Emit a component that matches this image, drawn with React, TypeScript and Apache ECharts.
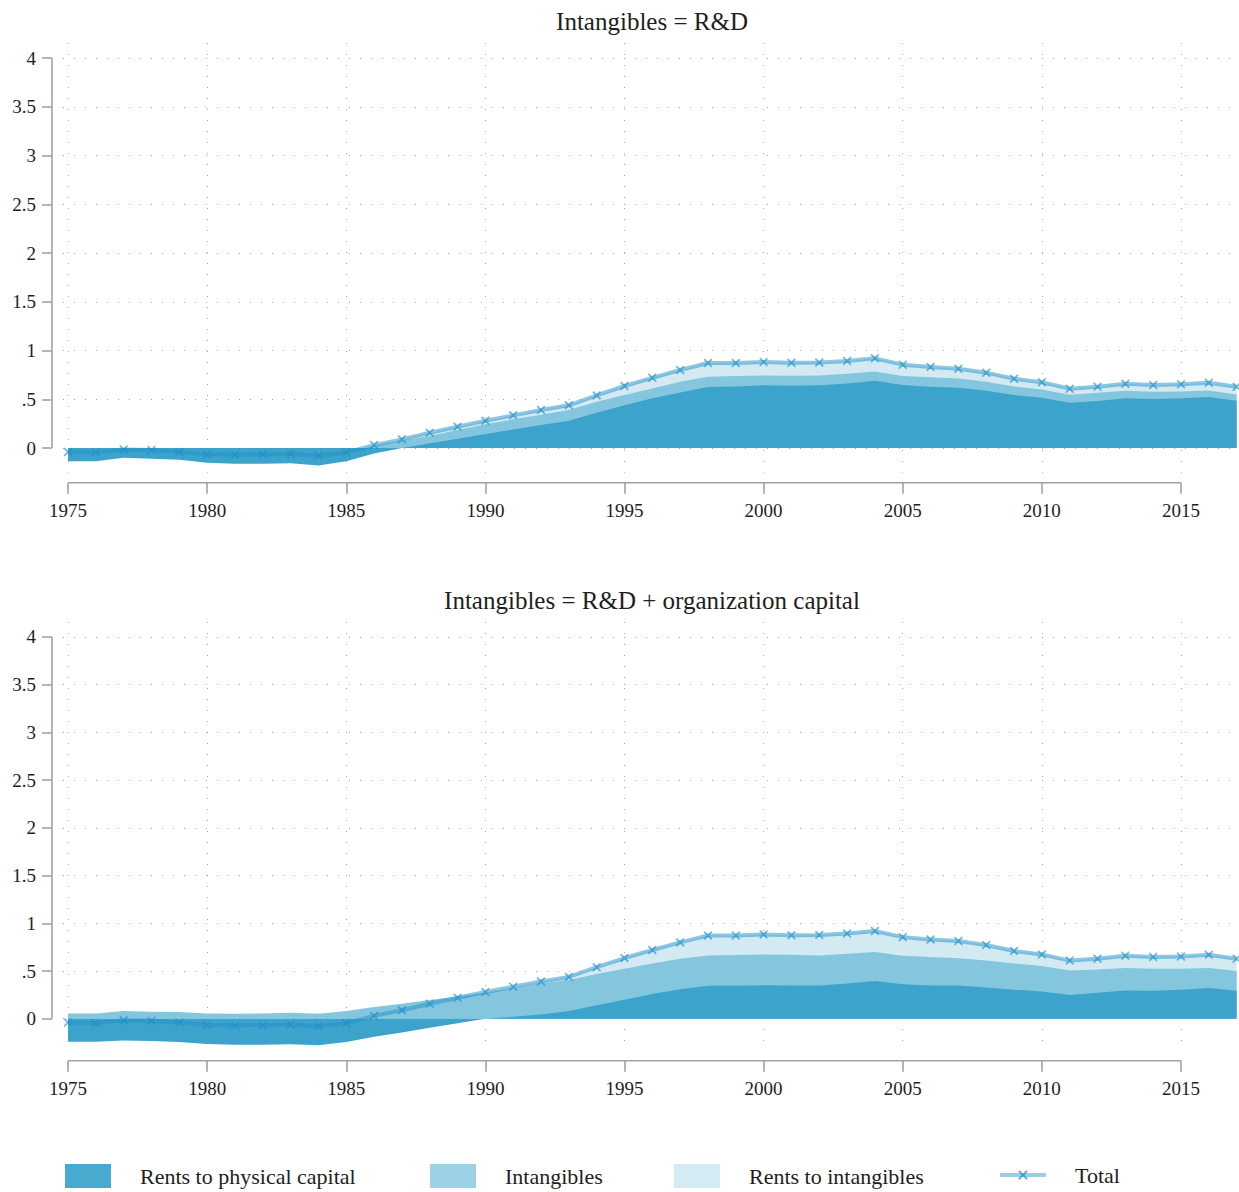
import { useEffect, useRef } from "react";
import * as echarts from "echarts";

// ---------- data ----------
const years = [
  1975, 1976, 1977, 1978, 1979, 1980, 1981, 1982, 1983, 1984,
  1985, 1986, 1987, 1988, 1989, 1990, 1991, 1992, 1993, 1994,
  1995, 1996, 1997, 1998, 1999, 2000, 2001, 2002, 2003, 2004,
  2005, 2006, 2007, 2008, 2009, 2010, 2011, 2012, 2013, 2014,
  2015, 2016, 2017,
];

// Total rents (same in both panels)
const totalRents = [
  -0.04, -0.045, -0.015, -0.02, -0.04, -0.065, -0.07, -0.065, -0.06, -0.08,
  -0.045, 0.03, 0.089, 0.157, 0.219, 0.28, 0.335, 0.39, 0.438, 0.54,
  0.636, 0.72, 0.8, 0.872, 0.872, 0.882, 0.875, 0.877, 0.892, 0.92,
  0.855, 0.83, 0.814, 0.773, 0.71, 0.674, 0.609, 0.629, 0.66, 0.646,
  0.653, 0.67, 0.629,
];

// Panel 1: Intangibles = R&D
const physicalRD = [
  -0.135, -0.135, -0.1, -0.11, -0.12, -0.15, -0.16, -0.16, -0.155, -0.18,
  -0.135, -0.055, 0.0, 0.048, 0.096, 0.144, 0.19, 0.236, 0.28, 0.362,
  0.44, 0.51, 0.57, 0.625, 0.632, 0.643, 0.64, 0.643, 0.663, 0.69,
  0.646, 0.629, 0.619, 0.588, 0.544, 0.516, 0.465, 0.482, 0.51, 0.503,
  0.51, 0.523, 0.485,
];
const intangiblesRD = [
  0.07, 0.07, 0.07, 0.07, 0.07, 0.075, 0.075, 0.075, 0.075, 0.08,
  0.08, 0.075, 0.075, 0.075, 0.089, 0.099, 0.104, 0.106, 0.11, 0.113,
  0.104, 0.1, 0.11, 0.105, 0.106, 0.102, 0.102, 0.102, 0.099, 0.096,
  0.092, 0.096, 0.095, 0.092, 0.088, 0.084, 0.082, 0.085, 0.078, 0.075,
  0.07, 0.067, 0.065,
];

// Panel 2: Intangibles = R&D + organization capital
const physicalOC = [
  -0.24, -0.24, -0.227, -0.234, -0.245, -0.265, -0.272, -0.272, -0.268, -0.279,
  -0.244, -0.19, -0.145, -0.095, -0.048, 0.0, 0.02, 0.045, 0.08, 0.14,
  0.2, 0.26, 0.31, 0.345, 0.345, 0.35, 0.347, 0.349, 0.37, 0.395,
  0.36, 0.349, 0.349, 0.328, 0.304, 0.286, 0.248, 0.272, 0.297, 0.293,
  0.304, 0.321, 0.293,
];
const intangiblesOC = [
  0.296, 0.296, 0.307, 0.307, 0.315, 0.321, 0.324, 0.328, 0.331, 0.331,
  0.324, 0.312, 0.302, 0.29, 0.282, 0.272, 0.298, 0.325, 0.325, 0.328,
  0.324, 0.32, 0.318, 0.318, 0.322, 0.324, 0.323, 0.314, 0.31, 0.303,
  0.3, 0.297, 0.286, 0.283, 0.276, 0.266, 0.258, 0.245, 0.234, 0.231,
  0.22, 0.21, 0.207,
];

const panelTitles = ["Intangibles = R&D", "Intangibles = R&D + organization capital"];
const xTicks = [1975, 1980, 1985, 1990, 1995, 2000, 2005, 2010, 2015];
const yTicks = [0, 0.5, 1, 1.5, 2, 2.5, 3, 3.5, 4];
const yTickLabels = ["0", ".5", "1", "1.5", "2", "2.5", "3", "3.5", "4"];

const NAME_PHYS = "Rents to physical capital";
const NAME_INT = "Intangibles";
const NAME_RENT = "Rents to intangibles";
const NAME_TOTAL = "Total";

// ---------- styles ----------
const FONT = '"Liberation Serif", "DejaVu Serif", serif';
const TXT = "#1e1e1e";
const AXIS = "#a2a2a2";
const DARK = "#3ca4cc";
const MED = "#85c6df";
const LIGHT = "#d4eaf3";
const LINE = "rgba(30,144,200,0.5)";
const MARK = "rgba(30,144,200,0.62)";
const XSYM =
  "path://M0,1.4L1.4,0L5,3.6L8.6,0L10,1.4L6.4,5L10,8.6L8.6,10L5,6.4L1.4,10L0,8.6L3.6,5Z";

const X_MIN = 1974.82;
const X_MAX = 2017.085;
const grids = [
  { top: 43, height: 429.7, yMin: -0.253, yMax: 4.154 },
  { top: 622, height: 428.7, yMin: -0.335, yMax: 4.157 },
];
const GRID_LEFT = 63;
const GRID_WIDTH = 1176;

const r3 = (v: number) => Math.round(v * 1000) / 1000;

function buildOption() {
  const gridLine = { show: true, lineStyle: { color: "#a8a8a8", width: 1, type: [1, 10] } };
  const physArr = [physicalRD, physicalOC];
  const intArr = [intangiblesRD, intangiblesOC];
  const series: any[] = [];
  for (let i = 0; i < 2; i++) {
    const phys = physArr[i];
    const intg = intArr[i];
    const totalPairs = years.map((y, k) => [y, totalRents[k]]);
    const physIntPairs = years.map((y, k) => [y, r3(phys[k] + intg[k])]);
    const physPairs = years.map((y, k) => [y, phys[k]]);
    const common = { type: "line", xAxisIndex: i, yAxisIndex: i, symbol: "none", silent: true };
    series.push({
      ...common,
      name: NAME_RENT,
      data: totalPairs,
      lineStyle: { width: 0, opacity: 0 },
      itemStyle: { color: LIGHT },
      areaStyle: { color: LIGHT, opacity: 1 },
      z: 2,
    });
    series.push({
      ...common,
      name: NAME_INT,
      data: physIntPairs,
      lineStyle: { width: 0, opacity: 0 },
      itemStyle: { color: MED },
      areaStyle: { color: MED, opacity: 1 },
      z: 3,
    });
    series.push({
      ...common,
      name: NAME_PHYS,
      data: physPairs,
      lineStyle: { width: 0, opacity: 0 },
      itemStyle: { color: DARK },
      areaStyle: { color: DARK, opacity: 1 },
      z: 4,
    });
    series.push({
      type: "line",
      xAxisIndex: i,
      yAxisIndex: i,
      name: NAME_TOTAL,
      data: totalPairs,
      symbol: XSYM,
      symbolSize: 9,
      showAllSymbol: true,
      lineStyle: { color: LINE, width: 4 },
      itemStyle: { color: MARK },
      silent: true,
      z: 5,
    });
  }

  const legendText = { fontFamily: FONT, fontSize: 22, color: TXT, padding: [0, 0, 0, 24] };
  const legendBase = { orient: "horizontal", padding: 0, selectedMode: false, textStyle: legendText };

  return {
    animation: false,
    backgroundColor: "#ffffff",
    textStyle: { fontFamily: FONT },
    title: panelTitles.map((t, i) => ({
      text: t,
      left: 652,
      top: i === 0 ? 9 : 588,
      textAlign: "center",
      padding: 0,
      textStyle: { fontFamily: FONT, fontSize: 25, fontWeight: "normal", color: TXT },
    })),
    legend: [
      { ...legendBase, left: 65, top: 1164, itemWidth: 46, itemHeight: 24, data: [{ name: NAME_PHYS, icon: "rect", itemStyle: { color: "#48aacf" } }] },
      { ...legendBase, left: 430, top: 1164, itemWidth: 46, itemHeight: 24, data: [{ name: NAME_INT, icon: "rect", itemStyle: { color: "#9dd1e6" } }] },
      { ...legendBase, left: 674, top: 1164, itemWidth: 46, itemHeight: 24, data: [{ name: NAME_RENT, icon: "rect", itemStyle: { color: "#d5ebf4" } }] },
      {
        ...legendBase,
        left: 998,
        top: 1164,
        itemWidth: 46,
        itemHeight: 12,
        lineStyle: { width: 4, color: "rgba(30,144,200,0.45)" },
        data: [{ name: NAME_TOTAL, itemStyle: { color: "rgba(30,144,200,0.75)" }, lineStyle: { width: 4, color: "rgba(30,144,200,0.45)" } }],
      },
    ],
    grid: grids.map((g) => ({ left: GRID_LEFT, width: GRID_WIDTH, top: g.top, height: g.height })),
    xAxis: grids.map((g, i) => ({
      type: "value",
      gridIndex: i,
      min: X_MIN,
      max: X_MAX,
      offset: 10,
      axisLine: { show: false, onZero: false },
      axisTick: { show: true, length: 11, customValues: xTicks, lineStyle: { color: AXIS, width: 1.6 } },
      axisLabel: { customValues: xTicks, margin: 18, fontFamily: FONT, fontSize: 19, color: TXT, formatter: (v: number) => String(v) },
      splitLine: gridLine,
    })),
    yAxis: grids.map((g, i) => ({
      type: "value",
      gridIndex: i,
      min: g.yMin,
      max: g.yMax,
      offset: 11,
      axisLine: { show: false, onZero: false },
      axisTick: { show: true, length: 10, customValues: yTicks, lineStyle: { color: AXIS, width: 1.6 } },
      axisLabel: {
        customValues: yTicks,
        margin: 16,
        fontFamily: FONT,
        fontSize: 19,
        color: TXT,
        formatter: (v: number) => {
          const k = yTicks.findIndex((t) => Math.abs(t - v) < 1e-6);
          return k >= 0 ? yTickLabels[k] : "";
        },
      },
      splitLine: gridLine,
    })),
    series,
  };
}

export default function App() {
  const ref = useRef<HTMLDivElement>(null);
  useEffect(() => {
    const chart = echarts.init(ref.current!, null, { renderer: "svg", width: 1239, height: 1192 });
    chart.setOption(buildOption() as any);
    const graphic: any[] = [];
    for (let i = 0; i < 2; i++) {
      const finder = { xAxisIndex: i, yAxisIndex: i };
      const p0 = chart.convertToPixel(finder, [xTicks[0], yTicks[0]]) as number[];
      const p4 = chart.convertToPixel(finder, [xTicks[xTicks.length - 1], yTicks[yTicks.length - 1]]) as number[];
      const corner = chart.convertToPixel(finder, [X_MIN, grids[i].yMin]) as number[];
      const yx = corner[0] - 11;
      const xy = corner[1] + 10;
      graphic.push({
        type: "line",
        silent: true,
        z: 10,
        shape: { x1: yx, y1: p4[1], x2: yx, y2: p0[1] },
        style: { stroke: AXIS, lineWidth: 1.6 },
      });
      graphic.push({
        type: "line",
        silent: true,
        z: 10,
        shape: { x1: p0[0], y1: xy, x2: p4[0], y2: xy },
        style: { stroke: AXIS, lineWidth: 1.6 },
      });
    }
    chart.setOption({ graphic });
    return () => chart.dispose();
  }, []);
  return (
    <div
      ref={ref}
      style={{ position: "fixed", left: 0, top: 0, width: 1239, height: 1192, background: "#fff" }}
    />
  );
}
